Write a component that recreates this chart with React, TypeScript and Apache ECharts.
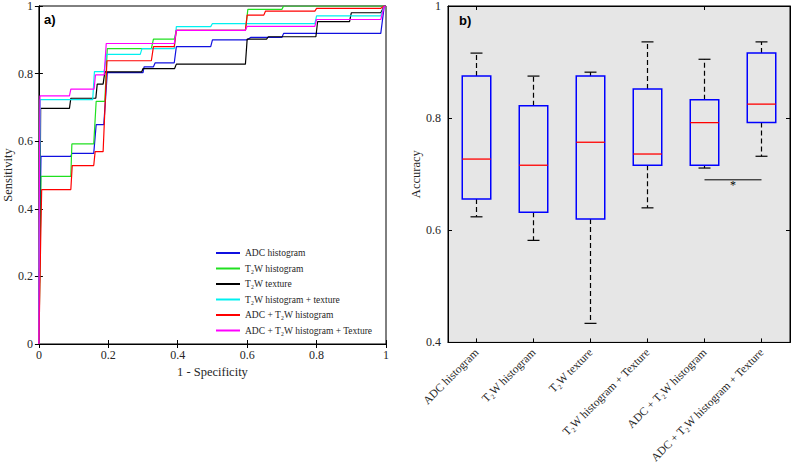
import React, { useEffect, useRef } from 'react';
import * as echarts from 'echarts';

// ---------- ROC data (panel a) ----------
const rocNames = [
  'ADC histogram',
  'T₂W histogram',
  'T₂W texture',
  'T₂W histogram + texture',
  'ADC + T₂W histogram',
  'ADC + T₂W histogram + Texture',
];
const rocColors = ['#1010e0', '#20e020', '#000000', '#00f0f0', '#ff0000', '#ff00ff'];

const rocAdcHist = [
  [0, 0], [0.003, 0.35], [0.006, 0.555], [0.092, 0.555], [0.095, 0.564], [0.158, 0.564],
  [0.165, 0.649], [0.187, 0.649], [0.197, 0.803], [0.3, 0.803], [0.303, 0.82], [0.33, 0.82],
  [0.335, 0.832], [0.39, 0.832], [0.396, 0.88], [0.495, 0.88], [0.5, 0.9], [0.6, 0.9],
  [0.61, 0.907], [0.7, 0.907], [0.705, 0.919], [0.985, 0.919], [0.995, 1], [1, 1],
];
const rocT2wHist = [
  [0, 0], [0.004, 0.3], [0.006, 0.496], [0.092, 0.496], [0.095, 0.592], [0.158, 0.592],
  [0.165, 0.718], [0.19, 0.718], [0.197, 0.874], [0.324, 0.874], [0.33, 0.902], [0.39, 0.902],
  [0.396, 0.928], [0.595, 0.928], [0.602, 0.99], [0.7, 0.99], [0.705, 1], [1, 1],
];
const rocT2wTexture = [
  [0, 0], [0.003, 0.35], [0.005, 0.697], [0.088, 0.697], [0.092, 0.727], [0.164, 0.727],
  [0.168, 0.769], [0.185, 0.769], [0.19, 0.805], [0.296, 0.805], [0.3, 0.815], [0.391, 0.815],
  [0.396, 0.828], [0.595, 0.828], [0.6, 0.902], [0.656, 0.902], [0.661, 0.909], [0.798, 0.909],
  [0.803, 0.954], [0.895, 0.954], [0.9, 0.98], [0.985, 0.98], [0.995, 1], [1, 1],
];
const rocT2wHistTexture = [
  [0, 0], [0.002, 0.4], [0.004, 0.723], [0.155, 0.723], [0.16, 0.806], [0.188, 0.806],
  [0.195, 0.857], [0.292, 0.857], [0.297, 0.874], [0.39, 0.874], [0.396, 0.939], [0.495, 0.939],
  [0.5, 0.948], [0.795, 0.948], [0.8, 0.971], [0.985, 0.971], [0.995, 1], [1, 1],
];
const rocAdcT2wHist = [
  [0, 0], [0.005, 0.3], [0.008, 0.457], [0.092, 0.457], [0.096, 0.528], [0.158, 0.528],
  [0.162, 0.569], [0.185, 0.569], [0.196, 0.838], [0.324, 0.838], [0.33, 0.88], [0.39, 0.88],
  [0.396, 0.928], [0.595, 0.928], [0.6, 0.973], [0.648, 0.973], [0.653, 0.985], [0.795, 0.985],
  [0.8, 0.993], [0.985, 0.993], [0.995, 1], [1, 1],
];
const rocAdcT2wHistTexture = [
  [0, 0], [0.001, 0.4], [0.003, 0.734], [0.088, 0.734], [0.092, 0.754], [0.159, 0.754],
  [0.163, 0.796], [0.188, 0.796], [0.194, 0.889], [0.39, 0.889], [0.396, 0.928], [0.595, 0.928],
  [0.6, 0.94], [0.795, 0.94], [0.8, 0.96], [0.985, 0.96], [0.995, 1], [1, 1],
];
const rocSeriesData = [
  rocAdcHist, rocT2wHist, rocT2wTexture, rocT2wHistTexture, rocAdcT2wHist, rocAdcT2wHistTexture,
];

// ---------- Box plot data (panel b) ----------
const boxCategories = [
  'ADC histogram',
  'T₂W histogram',
  'T₂W texture',
  'T₂W histogram + Texture',
  'ADC + T₂W histogram',
  'ADC + T₂W histogram + Texture',
];
const boxLow = [0.624, 0.582, 0.434, 0.64, 0.711, 0.732];
const boxQ1 = [0.656, 0.632, 0.62, 0.716, 0.716, 0.792];
const boxMedian = [0.727, 0.716, 0.757, 0.736, 0.792, 0.825];
const boxQ3 = [0.875, 0.822, 0.875, 0.852, 0.833, 0.916];
const boxHigh = [0.916, 0.875, 0.882, 0.936, 0.905, 0.936];
// significance bar: from category 4 to category 5 at this accuracy
const sigBar = [[4, 5, 0.69]];

const rocTicks = { min: 0, max: 1, interval: 0.2 };
const accTicks = { min: 0.4, max: 1, interval: 0.2 };

const SERIF = "'Liberation Serif', 'Times New Roman', 'DejaVu Serif', serif";
const SANS = "'Liberation Sans', Arial, sans-serif";
const LABEL = '#262626';

export default function App() {
  const ref = useRef<HTMLDivElement>(null);
  useEffect(() => {
    const chart = echarts.init(ref.current!, null, { renderer: 'svg' });
    const axisLine = { show: true, lineStyle: { color: '#000', width: 1 } };
    const axisTick = { show: true, inside: true, length: 4, lineStyle: { color: '#000', width: 1 } };
    const labelStyle = { fontFamily: SERIF, fontSize: 12, color: LABEL };
    const nameStyle = { fontFamily: SERIF, fontSize: 12.5, color: LABEL };

    const boxData = boxCategories.map((_, i) => [i, boxLow[i], boxQ1[i], boxMedian[i], boxQ3[i], boxHigh[i]]);

    const option: any = {
      animation: false,
      backgroundColor: '#fff',
      textStyle: { fontFamily: SERIF },
      title: [
        { text: 'a)', left: 44, top: 13, padding: 0, textStyle: { fontFamily: SANS, fontWeight: 'bold', fontSize: 13, color: '#000' } },
        { text: 'b)', left: 459, top: 14, padding: 0, textStyle: { fontFamily: SANS, fontWeight: 'bold', fontSize: 13, color: '#000' } },
      ],
      legend: {
        data: rocNames,
        orient: 'vertical',
        left: 216,
        top: 248,
        padding: 0,
        itemGap: 5.5,
        itemWidth: 24,
        itemHeight: 2,
        icon: 'rect',
        textStyle: { fontFamily: SERIF, fontSize: 9.5, color: LABEL },
      },
      grid: [
        { left: 34, top: 5, width: 352, height: 339, show: true, borderColor: '#000', borderWidth: 1, backgroundColor: '#fff' },
        { left: 448, top: 6, width: 342, height: 343, show: true, borderColor: '#000', borderWidth: 1, backgroundColor: '#e6e6e6' },
      ],
      xAxis: [
        {
          gridIndex: 0, type: 'value', ...rocTicks, position: 'bottom',
          axisLine, axisTick, splitLine: { show: false },
          axisLabel: { ...labelStyle, margin: 5 },
          name: '1 - Specificity', nameLocation: 'middle', nameGap: 19, nameTextStyle: nameStyle,
        },
        {
          gridIndex: 0, type: 'value', ...rocTicks, position: 'top',
          axisLine, axisTick, splitLine: { show: false }, axisLabel: { show: false },
        },
        {
          gridIndex: 1, type: 'category', data: boxCategories, position: 'bottom',
          axisLine, axisTick: { ...axisTick, alignWithLabel: true }, splitLine: { show: false },
          axisLabel: { fontFamily: SERIF, fontSize: 11.5, color: LABEL, rotate: 45, margin: 8, interval: 0 },
        },
        {
          gridIndex: 1, type: 'category', data: boxCategories, position: 'top',
          axisLine, axisTick: { ...axisTick, alignWithLabel: true }, splitLine: { show: false },
          axisLabel: { show: false },
        },
      ],
      yAxis: [
        {
          gridIndex: 0, type: 'value', ...rocTicks, position: 'left',
          axisLine, axisTick, splitLine: { show: false },
          axisLabel: { ...labelStyle, margin: 6 },
          name: 'Sensitivity', nameLocation: 'middle', nameGap: 22, nameTextStyle: nameStyle,
        },
        {
          gridIndex: 0, type: 'value', ...rocTicks, position: 'right',
          axisLine, axisTick, splitLine: { show: false }, axisLabel: { show: false },
        },
        {
          gridIndex: 1, type: 'value', ...accTicks, position: 'left',
          axisLine, axisTick, splitLine: { show: false },
          axisLabel: { ...labelStyle, margin: 7 },
          name: 'Accuracy', nameLocation: 'middle', nameGap: 18, nameTextStyle: nameStyle,
        },
        {
          gridIndex: 1, type: 'value', ...accTicks, position: 'right',
          axisLine, axisTick, splitLine: { show: false }, axisLabel: { show: false },
        },
      ],
      series: [
        ...rocNames.map((name, i) => ({
          name,
          type: 'line',
          xAxisIndex: 0,
          yAxisIndex: 0,
          data: rocSeriesData[i],
          symbol: 'none',
          color: rocColors[i],
          lineStyle: { width: 1.2, color: rocColors[i] },
          z: 3,
        })),
        {
          type: 'custom',
          xAxisIndex: 2,
          yAxisIndex: 2,
          data: boxData,
          encode: { x: 0, y: [1, 2, 3, 4, 5] },
          z: 4,
          renderItem: (params: any, api: any) => {
            const idx = api.value(0);
            const low = api.coord([idx, api.value(1)]);
            const q1 = api.coord([idx, api.value(2)]);
            const med = api.coord([idx, api.value(3)]);
            const q3 = api.coord([idx, api.value(4)]);
            const high = api.coord([idx, api.value(5)]);
            const bw = api.size([1, 0])[0] * 0.5;
            const cw = bw * 0.42;
            const cx = q1[0];
            const whisk = { stroke: '#000', lineWidth: 1.2, lineDash: [5, 3] };
            const cap = { stroke: '#000', lineWidth: 1.2 };
            return {
              type: 'group',
              children: [
                { type: 'line', shape: { x1: cx, y1: q3[1], x2: cx, y2: high[1] }, style: whisk },
                { type: 'line', shape: { x1: cx, y1: q1[1], x2: cx, y2: low[1] }, style: whisk },
                { type: 'line', shape: { x1: cx - cw / 2, y1: high[1], x2: cx + cw / 2, y2: high[1] }, style: cap },
                { type: 'line', shape: { x1: cx - cw / 2, y1: low[1], x2: cx + cw / 2, y2: low[1] }, style: cap },
                {
                  type: 'rect',
                  shape: { x: cx - bw / 2, y: q3[1], width: bw, height: q1[1] - q3[1] },
                  style: { fill: 'none', stroke: '#0000ff', lineWidth: 1.5 },
                },
                { type: 'line', shape: { x1: cx - bw / 2, y1: med[1], x2: cx + bw / 2, y2: med[1] }, style: { stroke: '#ff0000', lineWidth: 1.3 } },
              ],
            };
          },
        },
        {
          type: 'custom',
          xAxisIndex: 2,
          yAxisIndex: 2,
          data: sigBar,
          encode: { x: [0, 1], y: 2 },
          z: 4,
          renderItem: (params: any, api: any) => {
            const p1 = api.coord([api.value(0), api.value(2)]);
            const p2 = api.coord([api.value(1), api.value(2)]);
            const mx = (p1[0] + p2[0]) / 2;
            return {
              type: 'group',
              children: [
                { type: 'line', shape: { x1: p1[0], y1: p1[1], x2: p2[0], y2: p2[1] }, style: { stroke: '#000', lineWidth: 1 } },
                {
                  type: 'text', x: mx, y: p1[1] - 1,
                  style: { text: '*', fill: '#000', fontSize: 12, fontFamily: SERIF, align: 'center', verticalAlign: 'top' },
                },
              ],
            };
          },
        },
      ],
    };
    chart.setOption(option);
    return () => chart.dispose();
  }, []);
  return <div ref={ref} style={{ position: 'fixed', left: 0, top: 0, width: 793, height: 466 }} />;
}
